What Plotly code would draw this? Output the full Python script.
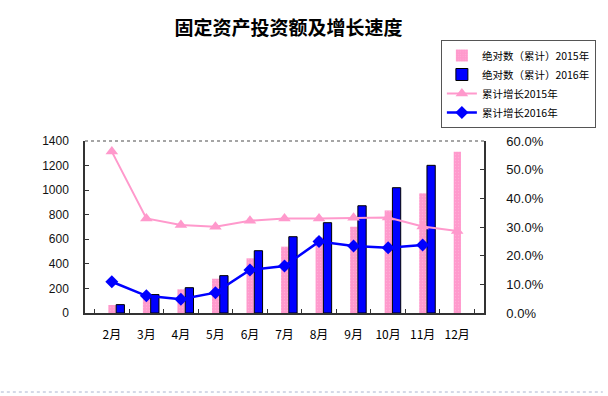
import plotly.graph_objects as go

months = ["2月", "3月", "4月", "5月", "6月", "7月", "8月", "9月", "10月", "11月", "12月"]
abs_2015 = [65, 140, 193, 279, 445, 540, 615, 702, 835, 974, 1313]
abs_2016 = [68, 150, 206, 304, 507, 621, 735, 873, 1020, 1202]
growth_2015 = [0.563, 0.330, 0.307, 0.301, 0.322, 0.330, 0.330, 0.332, 0.333, 0.302, 0.286]
growth_2016 = [0.109, 0.060, 0.048, 0.071, 0.150, 0.164, 0.249, 0.234, 0.228, 0.237]

left_ticks = list(range(0, 1401, 200))
right_ticks = [i / 10 for i in range(0, 7)]

title_text = "固定资产投资额及增长速度"
names = ["绝对数（累计）2015年", "绝对数（累计）2016年", "累计增长2015年", "累计增长2016年"]

PINK = "#FF99CC"
BLUE = "#0000FF"
FONT = "Liberation Sans, Arial, Noto Sans CJK SC"

fig = go.Figure()
fig.add_trace(go.Bar(
    x=months, y=abs_2015, name=names[0],
    offset=-0.1, width=0.21,
    marker=dict(color=PINK, line=dict(width=0),
                pattern=dict(shape=".", fgcolor="#FFC2E0", size=3, solidity=0.15)),
))
fig.add_trace(go.Bar(
    x=months[:len(abs_2016)], y=abs_2016, name=names[1],
    offset=0.125, width=0.24,
    marker=dict(color=BLUE, line=dict(color="#000000", width=1)),
))
fig.add_trace(go.Scatter(
    x=months, y=growth_2015, name=names[2], yaxis="y2", mode="lines+markers",
    line=dict(color=PINK, width=2),
    marker=dict(symbol="triangle-up", size=11, color=PINK),
))
fig.add_trace(go.Scatter(
    x=months[:len(growth_2016)], y=growth_2016, name=names[3], yaxis="y2", mode="lines+markers",
    line=dict(color=BLUE, width=2.5),
    marker=dict(symbol="diamond", size=10, color=BLUE),
))

fig.update_layout(
    width=608, height=396,
    margin=dict(l=85, r=120, t=141, b=83),
    paper_bgcolor="white", plot_bgcolor="white",
    barmode="overlay",
    font=dict(family=FONT, size=12, color="#111111"),
    title=dict(text="<b>" + title_text + "</b>", x=0.4745, xanchor="center",
               y=1 - 28 / 396, yanchor="middle",
               font=dict(family="Noto Sans CJK SC", size=19, color="#000000")),
    xaxis=dict(type="category", showline=True, linecolor="#333333", linewidth=1.5,
               ticks="inside", ticklen=4, tickcolor="#333333", tickson="boundaries",
               showgrid=False, ticklabelstandoff=10, tickangle=0,
               tickfont=dict(family="Noto Sans CJK SC", size=12, color="#000000")),
    yaxis=dict(range=[0, 1400], tickvals=left_ticks, showline=True, linecolor="#333333",
               linewidth=1.5, ticks="inside", ticklen=4, tickcolor="#333333",
               showgrid=False, zeroline=False, ticklabelstandoff=12,
               tickfont=dict(size=12, color="#111111")),
    yaxis2=dict(range=[0, 0.6], tickvals=right_ticks, tickformat=".1%", overlaying="y",
                side="right", showline=True, linecolor="#333333", linewidth=1.5,
                ticks="inside", ticklen=4, tickcolor="#333333", showgrid=False,
                zeroline=False, ticklabelstandoff=18,
                tickfont=dict(size=13, color="#111111")),
    legend=dict(x=(601 - 85) / 403, xanchor="right", y=(313 - 40) / 172, yanchor="top",
                bgcolor="white", bordercolor="#555555", borderwidth=1,
                font=dict(family="Noto Sans CJK SC", size=10.5, color="#000000"),
                itemwidth=30, tracegroupgap=0),
    showlegend=True,
    shapes=[
        dict(type="line", xref="paper", yref="paper", x0=0, x1=1, y0=1, y1=1,
             line=dict(color="#888888", width=1.5, dash="dot")),
        dict(type="line", xref="paper", yref="paper", x0=-85 / 403, x1=523 / 403,
             y0=(313 - 392) / 172, y1=(313 - 392) / 172,
             line=dict(color="#AAB4D0", width=1, dash="dot")),
    ],
)

fig.write_html("out.html", config={"displayModeBar": False},
               post_script="document.body.style.margin='0';")
